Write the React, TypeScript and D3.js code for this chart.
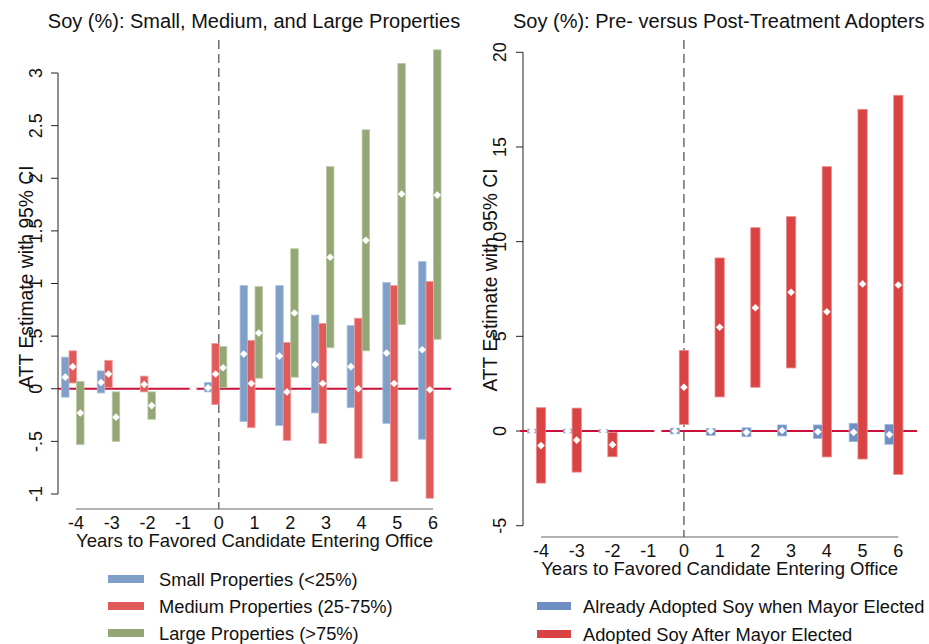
import React from "react";
import * as d3 from "d3";

// ---------- DATA ----------
const years = [-4, -3, -2, -1, 0, 1, 2, 3, 4, 5, 6];
const xTicks = [-4, -3, -2, -1, 0, 1, 2, 3, 4, 5, 6];

// Left panel: property size groups
const smallEst = [0.11, 0.06, null, null, 0.01, 0.33, 0.31, 0.23, 0.21, 0.34, 0.37];
const smallLo = [-0.08, -0.04, null, null, -0.03, -0.31, -0.35, -0.23, -0.18, -0.33, -0.48];
const smallHi = [0.3, 0.17, null, null, 0.06, 0.98, 0.98, 0.7, 0.6, 1.01, 1.21];

const mediumEst = [0.21, 0.14, 0.04, null, 0.14, 0.05, -0.03, 0.05, 0.0, 0.05, -0.01];
const mediumLo = [0.055, 0.01, -0.03, null, -0.15, -0.37, -0.49, -0.52, -0.66, -0.88, -1.04];
const mediumHi = [0.36, 0.27, 0.12, null, 0.43, 0.46, 0.44, 0.62, 0.67, 0.98, 1.02];

const largeEst = [-0.23, -0.27, -0.16, null, 0.2, 0.53, 0.72, 1.25, 1.41, 1.85, 1.84];
const largeLo = [-0.53, -0.5, -0.29, null, 0.01, 0.1, 0.11, 0.39, 0.36, 0.61, 0.47];
const largeHi = [0.07, -0.03, -0.03, null, 0.4, 0.97, 1.33, 2.11, 2.46, 3.09, 3.22];

const leftRefX = [-0.72];
const leftYTicks = [-1, -0.5, 0, 0.5, 1, 1.5, 2, 2.5, 3];
const leftYTickLabels = ["-1", "-.5", "0", ".5", "1", "1.5", "2", "2.5", "3"];

// Right panel: adoption timing
const alreadyEst = [0, 0, 0, null, 0, 0, -0.07, 0.03, -0.04, -0.07, -0.19];
const alreadyLo = [-0.1, -0.1, -0.08, null, -0.15, -0.23, -0.3, -0.26, -0.39, -0.56, -0.7];
const alreadyHi = [0.1, 0.1, 0.08, null, 0.15, 0.14, 0.17, 0.32, 0.32, 0.41, 0.35];

const afterEst = [-0.77, -0.48, -0.72, null, 2.31, 5.48, 6.51, 7.33, 6.3, 7.77, 7.71];
const afterLo = [-2.75, -2.17, -1.36, null, 0.35, 1.8, 2.31, 3.33, -1.37, -1.48, -2.29];
const afterHi = [1.23, 1.21, -0.07, null, 4.26, 9.14, 10.74, 11.32, 13.96, 16.99, 17.73];

const rightRefX = [-0.73];
const rightYTicks = [-5, 0, 5, 10, 15, 20];
const rightYTickLabels = ["-5", "0", "5", "10", "15", "20"];

const leftTitle = "Soy (%): Small, Medium, and Large Properties";
const rightTitle = "Soy (%): Pre- versus Post-Treatment Adopters";
const yTitle = "ATT Estimate with 95% CI";
const xTitle = "Years to Favored Candidate Entering Office";

const leftLegend = ["Small Properties (<25%)", "Medium Properties (25-75%)", "Large Properties (>75%)"];
const rightLegend = ["Already Adopted Soy when Mayor Elected", "Adopted Soy After Mayor Elected"];

const FONT = "'Liberation Sans', Arial, Helvetica, sans-serif";

type Series = { est: (number | null)[]; lo: (number | null)[]; hi: (number | null)[]; color: string; stroke: string; offset: number; width: number };

function diamond(cx: number, cy: number, r: number) {
  return `M${cx},${cy - r}L${cx + r},${cy}L${cx},${cy + r}L${cx - r},${cy}Z`;
}

function Panel(props: {
  x0: number; x1: number; y0: number; y1: number; yDomain: [number, number];
  series: Series[]; refX: number[]; yTicks: number[]; yTickLabels: string[];
  yLabelX: number; yTitleX: number; yTitleY: number; xAxisY: number; xLabelY: number; xTitleY: number;
  zeroX0: number; zeroX1: number; axisX: number; dashTop: number;
}) {
  const p = props;
  const x = d3.scaleLinear().domain([-4, 6]).range([p.x0, p.x1]);
  const y = d3.scaleLinear().domain(p.yDomain).range([p.y0, p.y1]);
  const unit = x(1) - x(0);
  return (
    <g>
      {/* y axis */}
      <line x1={p.axisX} x2={p.axisX} y1={y(p.yDomain[0])} y2={y(p.yDomain[1])} stroke="#222" strokeWidth={1} />
      {p.yTicks.map((t, i) => (
        <g key={"yt" + i}>
          <line x1={p.axisX - 7} x2={p.axisX} y1={y(t)} y2={y(t)} stroke="#222" strokeWidth={1} />
          <text transform={`translate(${p.yLabelX},${y(t)}) rotate(-90)`} textAnchor="middle" fontSize={18} fontFamily={FONT} fill="#111">
            {p.yTickLabels[i]}
          </text>
        </g>
      ))}
      {/* x axis */}
      <line x1={x(-4)} x2={x(6)} y1={p.xAxisY} y2={p.xAxisY} stroke="#666" strokeWidth={1.2} />
      {xTicks.map((t) => (
        <text key={"xt" + t} x={x(t)} y={p.xLabelY} textAnchor="middle" fontSize={18} fontFamily={FONT} fill="#111">
          {t}
        </text>
      ))}
      <text x={(x(-4) + x(6)) / 2} y={p.xTitleY} textAnchor="middle" fontSize={18.5} fontFamily={FONT} fill="#111">
        {xTitle}
      </text>
      <text transform={`translate(${p.yTitleX},${p.yTitleY}) rotate(-90)`} textAnchor="middle" fontSize={19.3} fontFamily={FONT} fill="#111">
        {yTitle}
      </text>
      {/* dashed zero-year line */}
      <line x1={x(0)} x2={x(0)} y1={p.dashTop} y2={p.xAxisY} stroke="#555" strokeWidth={1.3} strokeDasharray="9,5" />
      {/* zero line */}
      <line x1={p.zeroX0} x2={p.zeroX1} y1={y(0)} y2={y(0)} stroke="#c8103a" strokeWidth={1.8} />
      {/* bars */}
      {p.series.map((s, si) =>
        years.map((yr, i) => {
          const lo = s.lo[i], hi = s.hi[i];
          if (lo == null || hi == null) return null;
          const cx = x(yr + s.offset);
          return (
            <rect key={`b${si}-${i}`} x={cx - (s.width * unit) / 2} width={s.width * unit} y={y(hi)} height={Math.max(y(lo) - y(hi), 1)}
              fill={s.color} stroke={s.stroke} strokeWidth={0.8} />
          );
        })
      )}
      {p.series.map((s, si) =>
        years.map((yr, i) => {
          const e = s.est[i];
          if (e == null) return null;
          return <path key={`d${si}-${i}`} d={diamond(x(yr + s.offset), y(e), 3.8)} fill="#fff" />;
        })
      )}
      {p.refX.map((rx, i) => (
        <path key={"r" + i} d={diamond(x(rx), y(0), 3.8)} fill="#fff" stroke="#e8e8e0" strokeWidth={0.6} />
      ))}
    </g>
  );
}

export default function App() {
  const leftSeries: Series[] = [
    { est: smallEst, lo: smallLo, hi: smallHi, color: "#7f9fc8", stroke: "#a9c0df", offset: -0.3, width: 0.21 },
    { est: mediumEst, lo: mediumLo, hi: mediumHi, color: "#e05a5a", stroke: "#f09a9a", offset: -0.09, width: 0.21 },
    { est: largeEst, lo: largeLo, hi: largeHi, color: "#93a776", stroke: "#b9c8a3", offset: 0.12, width: 0.21 },
  ];
  const rightSeries: Series[] = [
    { est: alreadyEst, lo: alreadyLo, hi: alreadyHi, color: "#6d8fc3", stroke: "#a0b8dc", offset: -0.25, width: 0.25 },
    { est: afterEst, lo: afterLo, hi: afterHi, color: "#d94343", stroke: "#ee8c8c", offset: 0, width: 0.26 },
  ];
  const leftColors = ["#7f9fc8", "#e05a5a", "#93a776"];
  const rightColors = ["#6d8fc3", "#d94343"];
  return (
    <svg width={929} height={644} style={{ position: "absolute", left: 0, top: 0, background: "#fff" }}>
      <rect width={929} height={644} fill="#fff" />
      <text x={254} y={28} textAnchor="middle" fontSize={20} fontFamily={FONT} fill="#111">{leftTitle}</text>
      <text x={513} y={28} textAnchor="start" fontSize={20} fontFamily={FONT} fill="#111">{rightTitle}</text>
      <Panel x0={76} x1={433} y0={494} y1={73} yDomain={[-1, 3]} series={leftSeries} refX={leftRefX}
        yTicks={leftYTicks} yTickLabels={leftYTickLabels} yLabelX={42} yTitleX={33} yTitleY={277}
        xAxisY={509} xLabelY={529} xTitleY={547} zeroX0={58} zeroX1={451} axisX={58} dashTop={40} />
      <Panel x0={541} x1={898.3} y0={525.7} y1={52.3} yDomain={[-5, 20]} series={rightSeries} refX={rightRefX}
        yTicks={rightYTicks} yTickLabels={rightYTickLabels} yLabelX={506} yTitleX={497} yTitleY={280}
        xAxisY={537} xLabelY={557} xTitleY={575} zeroX0={520} zeroX1={917} axisX={523} dashTop={40} />
      {leftLegend.map((l, i) => (
        <g key={"ll" + i}>
          <rect x={108} y={575 + i * 27} width={36} height={8} fill={leftColors[i]} />
          <text x={159} y={585.5 + i * 27} fontSize={18.3} fontFamily={FONT} fill="#111">{l}</text>
        </g>
      ))}
      {rightLegend.map((l, i) => (
        <g key={"rl" + i}>
          <rect x={537} y={602 + i * 28} width={34} height={8} fill={rightColors[i]} />
          <text x={583} y={612.5 + i * 28} fontSize={18.3} fontFamily={FONT} fill="#111">{l}</text>
        </g>
      ))}
    </svg>
  );
}
